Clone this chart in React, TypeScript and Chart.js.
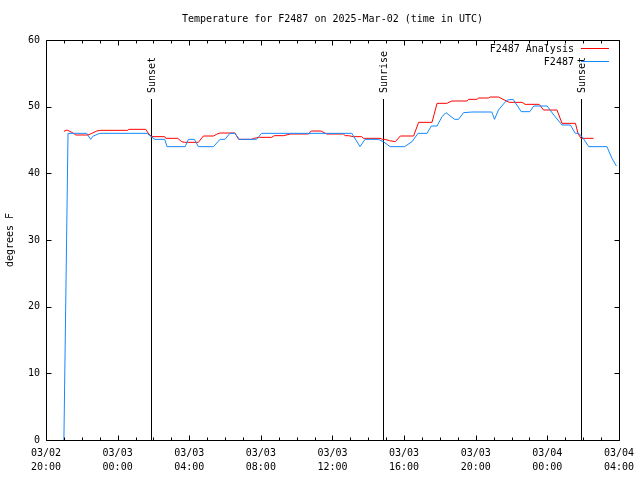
import React, { useEffect, useRef } from "react";
import { Chart, registerables } from "chart.js";

Chart.register(...registerables);

const TITLE = "Temperature for F2487 on 2025-Mar-02 (time in UTC)";
const Y_LABEL = "degrees F";
const SERIES_NAMES = ["F2487 Analysis", "F2487"];
const FONT = '"DejaVu Sans Mono", "Liberation Mono", monospace';

// x ticks every 4 hours starting 03/02 20:00 UTC
const xTickLabels: string[][] = [
  ["03/02", "20:00"],
  ["03/03", "00:00"],
  ["03/03", "04:00"],
  ["03/03", "08:00"],
  ["03/03", "12:00"],
  ["03/03", "16:00"],
  ["03/03", "20:00"],
  ["03/04", "00:00"],
  ["03/04", "04:00"],
];

// hours since 03/02 20:00 UTC
const analysisHours = [
  1.0, 1.17, 1.34, 1.51, 1.67, 2.34, 2.56, 2.84, 3.01, 4.57, 4.63, 5.57, 5.74, 5.91, 6.63, 6.69,
  7.36, 7.58, 7.73, 8.51, 8.79, 9.35, 9.53, 9.72, 10.55, 10.76, 11.48, 11.6, 11.93, 12.6, 12.75,
  13.27, 13.64, 14.66, 14.81, 15.35, 15.54, 15.67, 16.61, 16.71, 16.89, 17.17, 17.63, 17.73,
  18.66, 18.79, 18.94, 19.18, 19.51, 19.79, 20.53, 20.81, 21.56, 21.84, 22.39, 22.67, 23.51,
  23.6, 24.07, 24.16, 24.71, 24.81, 25.27, 25.87, 26.59, 26.76, 27.54, 27.79, 28.54, 28.82,
  29.57, 29.71, 29.88, 30.58,
];
const analysisTemps = [
  46.3, 46.5, 46.28, 46.05, 45.75, 45.75, 46.0, 46.35, 46.45, 46.45, 46.6, 46.6, 45.9, 45.5, 45.5,
  45.25, 45.25, 44.75, 44.65, 44.65, 45.6, 45.6, 45.85, 46.05, 46.05, 45.1, 45.1, 45.25, 45.4,
  45.4, 45.65, 45.65, 45.9, 45.9, 46.35, 46.35, 46.1, 45.9, 45.9, 45.65, 45.65, 45.5, 45.5, 45.25,
  45.25, 45.1, 45.1, 44.9, 44.75, 45.6, 45.6, 47.65, 47.65, 50.5, 50.5, 50.85, 50.85, 51.1, 51.1,
  51.3, 51.3, 51.45, 51.45, 50.65, 50.65, 50.35, 50.35, 49.5, 49.5, 47.5, 47.5, 46.0, 45.25,
  45.25,
];

const obsHours = [
  1.0, 1.23, 2.27, 2.49, 2.64, 3.01, 5.65, 5.8, 6.08, 6.63, 6.76, 7.77, 7.96, 8.29, 8.51, 9.35,
  9.72, 10.0, 10.27, 10.55, 10.8, 11.76, 12.04, 17.08, 17.54, 17.82, 18.56, 18.84, 19.22, 20.03,
  20.44, 20.78, 21.28, 21.52, 21.84, 22.12, 22.34, 22.82, 23.04, 23.32, 23.79, 24.9, 25.05,
  25.27, 25.55, 25.76, 26.09, 26.54, 27.02, 27.24, 27.99, 28.36, 28.82, 29.29, 29.56, 29.75,
  29.94, 30.31, 31.33, 31.61, 31.86,
];
const obsTemps = [
  0, 46.0, 46.0, 45.1, 45.6, 46.0, 46.0, 45.65, 45.1, 45.1, 44.0, 44.0, 45.1, 45.1, 44.0, 44.0,
  45.1, 45.1, 46.0, 46.0, 45.1, 45.1, 46.0, 46.0, 44.0, 45.1, 45.1, 44.75, 44.0, 44.0, 44.75,
  46.0, 46.0, 47.1, 47.1, 48.5, 49.1, 48.1, 48.1, 49.1, 49.2, 49.2, 48.1, 49.5, 50.4, 51.0, 51.1,
  49.25, 49.25, 50.1, 50.1, 48.75, 47.25, 47.25, 46.0, 46.0, 45.5, 44.0, 44.0, 42.25, 41.1,
];

const eventNames = ["Sunset", "Sunrise", "Sunset"];
const eventHours = [5.89, 18.8, 29.9];
const eventTop = 51.15;

const RED = "#ff0000";
const BLUE = "#1488ff";

const decorPlugin = {
  id: "decor",
  beforeDatasetsDraw(chart: any) {
    const { ctx, chartArea: a, scales } = chart;
    const x = scales.x;
    const y = scales.y;
    ctx.save();
    ctx.strokeStyle = "#000";
    ctx.fillStyle = "#000";
    ctx.lineWidth = 1;
    ctx.font = `10px ${FONT}`;
    eventHours.forEach((h, i) => {
      const px = Math.round(x.getPixelForValue(h)) + 0.5;
      const top = Math.round(y.getPixelForValue(eventTop));
      ctx.beginPath();
      ctx.moveTo(px, a.bottom);
      ctx.lineTo(px, top);
      ctx.stroke();
      ctx.save();
      ctx.translate(px + 1, top - 6);
      ctx.rotate(-Math.PI / 2);
      ctx.textAlign = "left";
      ctx.textBaseline = "middle";
      ctx.fillText(eventNames[i], 0, 0);
      ctx.restore();
    });
    ctx.restore();
  },
  afterDraw(chart: any) {
    const { ctx, chartArea: a, scales } = chart;
    const x = scales.x;
    const y = scales.y;
    ctx.save();
    ctx.strokeStyle = "#000";
    ctx.lineWidth = 1;
    const L = Math.round(a.left) + 0.5;
    const R = Math.round(a.right) + 0.5;
    const T = Math.round(a.top) + 0.5;
    const B = Math.round(a.bottom) + 0.5;
    ctx.beginPath();
    ctx.rect(L, T, R - L, B - T);
    ctx.stroke();
    // x ticks (hourly minor, 4-hourly major), inward on bottom and top
    const xmin = x.min;
    const xmax = x.max;
    ctx.beginPath();
    for (let h = xmin; h <= xmax; h += 1) {
      const px = Math.round(x.getPixelForValue(h)) + 0.5;
      const len = h % 4 === 0 ? 5 : 3;
      ctx.moveTo(px, B);
      ctx.lineTo(px, B - len);
      ctx.moveTo(px, T);
      ctx.lineTo(px, T + len);
    }
    // y ticks, inward on left and right
    y.ticks.forEach((t: any) => {
      const py = Math.round(y.getPixelForValue(t.value)) + 0.5;
      ctx.moveTo(L, py);
      ctx.lineTo(L + 5, py);
      ctx.moveTo(R, py);
      ctx.lineTo(R - 5, py);
    });
    ctx.stroke();

    // title
    ctx.fillStyle = "#000";
    ctx.font = `10px ${FONT}`;
    ctx.textAlign = "center";
    ctx.textBaseline = "middle";
    ctx.fillText(TITLE, (a.left + a.right) / 2, 19);

    // legend (top right, inside)
    const colors = [RED, BLUE];
    SERIES_NAMES.forEach((name, i) => {
      const ly = 49 + i * 13;
      ctx.textAlign = "right";
      ctx.fillStyle = "#000";
      ctx.fillText(name, a.right - 45, ly);
      ctx.strokeStyle = colors[i];
      ctx.beginPath();
      ctx.moveTo(a.right - 38, Math.round(ly) - 0.5);
      ctx.lineTo(a.right - 10, Math.round(ly) - 0.5);
      ctx.stroke();
    });
    ctx.restore();
  },
};

export default function App() {
  const ref = useRef<HTMLCanvasElement | null>(null);
  useEffect(() => {
    if (!ref.current) return;
    const chart = new Chart(ref.current, {
      type: "line",
      data: {
        datasets: [
          {
            label: SERIES_NAMES[1],
            data: obsHours.map((h, i) => ({ x: h, y: obsTemps[i] })),
            borderColor: BLUE,
            borderWidth: 1,
            pointRadius: 0,
            tension: 0,
            order: 0,
          },
          {
            label: SERIES_NAMES[0],
            data: analysisHours.map((h, i) => ({ x: h, y: analysisTemps[i] })),
            borderColor: RED,
            borderWidth: 1,
            pointRadius: 0,
            tension: 0,
            order: 1,
          },
        ],
      },
      options: {
        responsive: false,
        animation: false,
        layout: { padding: { top: 40, right: 20, left: 0, bottom: 0 } },
        plugins: {
          legend: { display: false },
          title: { display: false },
          tooltip: { enabled: false },
        },
        scales: {
          x: {
            type: "linear",
            min: 0,
            max: 32,
            grid: { display: false, drawTicks: false },
            border: { display: false },
            ticks: {
              stepSize: 4,
              autoSkip: false,
              maxRotation: 0,
              minRotation: 0,
              padding: 6,
              color: "#000",
              font: { family: FONT, size: 10, lineHeight: 1.4 },
              callback: (v: any) => xTickLabels[Math.round(Number(v) / 4)] ?? "",
            },
            afterFit: (s: any) => {
              s.height = 40;
            },
          },
          y: {
            type: "linear",
            min: 0,
            max: 60,
            grid: { display: false, drawTicks: false },
            border: { display: false },
            ticks: {
              stepSize: 10,
              padding: 6,
              color: "#000",
              font: { family: FONT, size: 10 },
            },
            title: {
              display: true,
              text: Y_LABEL,
              color: "#000",
              font: { family: FONT, size: 10 },
              padding: { top: 4, bottom: 0 },
            },
            afterFit: (s: any) => {
              s.width = 46;
            },
          },
        },
      },
      plugins: [decorPlugin],
    } as any);
    return () => chart.destroy();
  }, []);
  return (
    <div style={{ position: "fixed", left: 0, top: 0, width: 640, height: 480, background: "#fff" }}>
      <canvas ref={ref} width={640} height={480} />
    </div>
  );
}
